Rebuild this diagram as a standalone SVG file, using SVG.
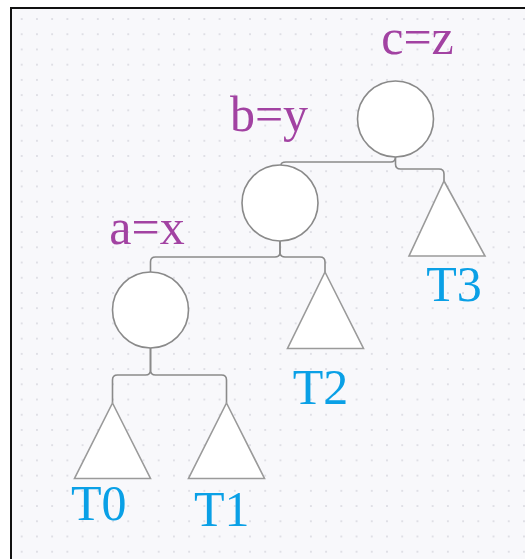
<svg xmlns="http://www.w3.org/2000/svg" width="525" height="559" viewBox="0 0 525 559">
<style>
.node{fill:#fff;stroke:#8a8a8a;stroke-width:1.6}
.tri{fill:#fff;stroke:#9a9a9a;stroke-width:1.6}
.conn{fill:none;stroke:#8a8a8a;stroke-width:1.6}
.lbl{font-family:"Liberation Serif","Times New Roman",serif;font-size:50px;text-anchor:middle}
.key{fill:#a242a2}
.sub{fill:#0aa0e6}
</style>
<defs>
<pattern id="dots" patternUnits="userSpaceOnUse" x="14.1" y="11.4" width="15.22" height="15.22">
<circle cx="7.61" cy="7.61" r="1" fill="#d9d9e0"/>
</pattern>
</defs>
<rect x="0" y="0" width="525" height="559" fill="#fff"/>
<rect x="11" y="8" width="600" height="600" fill="#f8f8fb" stroke="#111" stroke-width="2"/>
<rect x="12" y="9" width="520" height="560" fill="url(#dots)"/>
<g id="connectors">
<path class="conn" d="M395.5,157 Q395.5,162 390.5,162 L286,162 Q281,162 281,165"/>
<path class="conn" d="M395.5,157 L395.5,164 Q395.5,169 400.5,169 L439,169 Q444,169 444,174 L444,181"/>
<path class="conn" d="M280,241 L280,252 Q280,257 275,257 L155.5,257 Q150.5,257 150.5,262 L150.5,272"/>
<path class="conn" d="M280,241 L280,252 Q280,257 285,257 L320,257 Q325,257 325,262 L325,272"/>
<path class="conn" d="M150.5,348 L150.5,370 Q150.5,375 145.5,375 L117.5,375 Q112.5,375 112.5,380 L112.5,403"/>
<path class="conn" d="M150.5,348 L150.5,370 Q150.5,375 155.5,375 L221.5,375 Q226.5,375 226.5,380 L226.5,403"/>
</g>
<g id="node-c">
<circle class="node" cx="395.5" cy="119" r="38"/>
<text class="lbl key" x="417.5" y="53.5">c=z</text>
</g>
<g id="node-b">
<circle class="node" cx="280" cy="203" r="38"/>
<text class="lbl key" x="269" y="130.5">b=y</text>
</g>
<g id="node-a">
<circle class="node" cx="150.5" cy="310" r="38"/>
<text class="lbl key" x="147" y="243.5">a=x</text>
</g>
<g id="T3">
<polygon class="tri" points="444,181 485,256 409,256"/>
<text class="lbl sub" x="454" y="300.5">T3</text>
</g>
<g id="T2">
<polygon class="tri" points="325,272 363.5,348.5 287.5,348.5"/>
<text class="lbl sub" x="320.5" y="403.5">T2</text>
</g>
<g id="T0">
<polygon class="tri" points="112.5,403 150.5,478.5 74.5,478.5"/>
<text class="lbl sub" x="98.7" y="520">T0</text>
</g>
<g id="T1">
<polygon class="tri" points="226.5,403 264.5,478.5 188.5,478.5"/>
<text class="lbl sub" x="221.7" y="526">T1</text>
</g>
</svg>
